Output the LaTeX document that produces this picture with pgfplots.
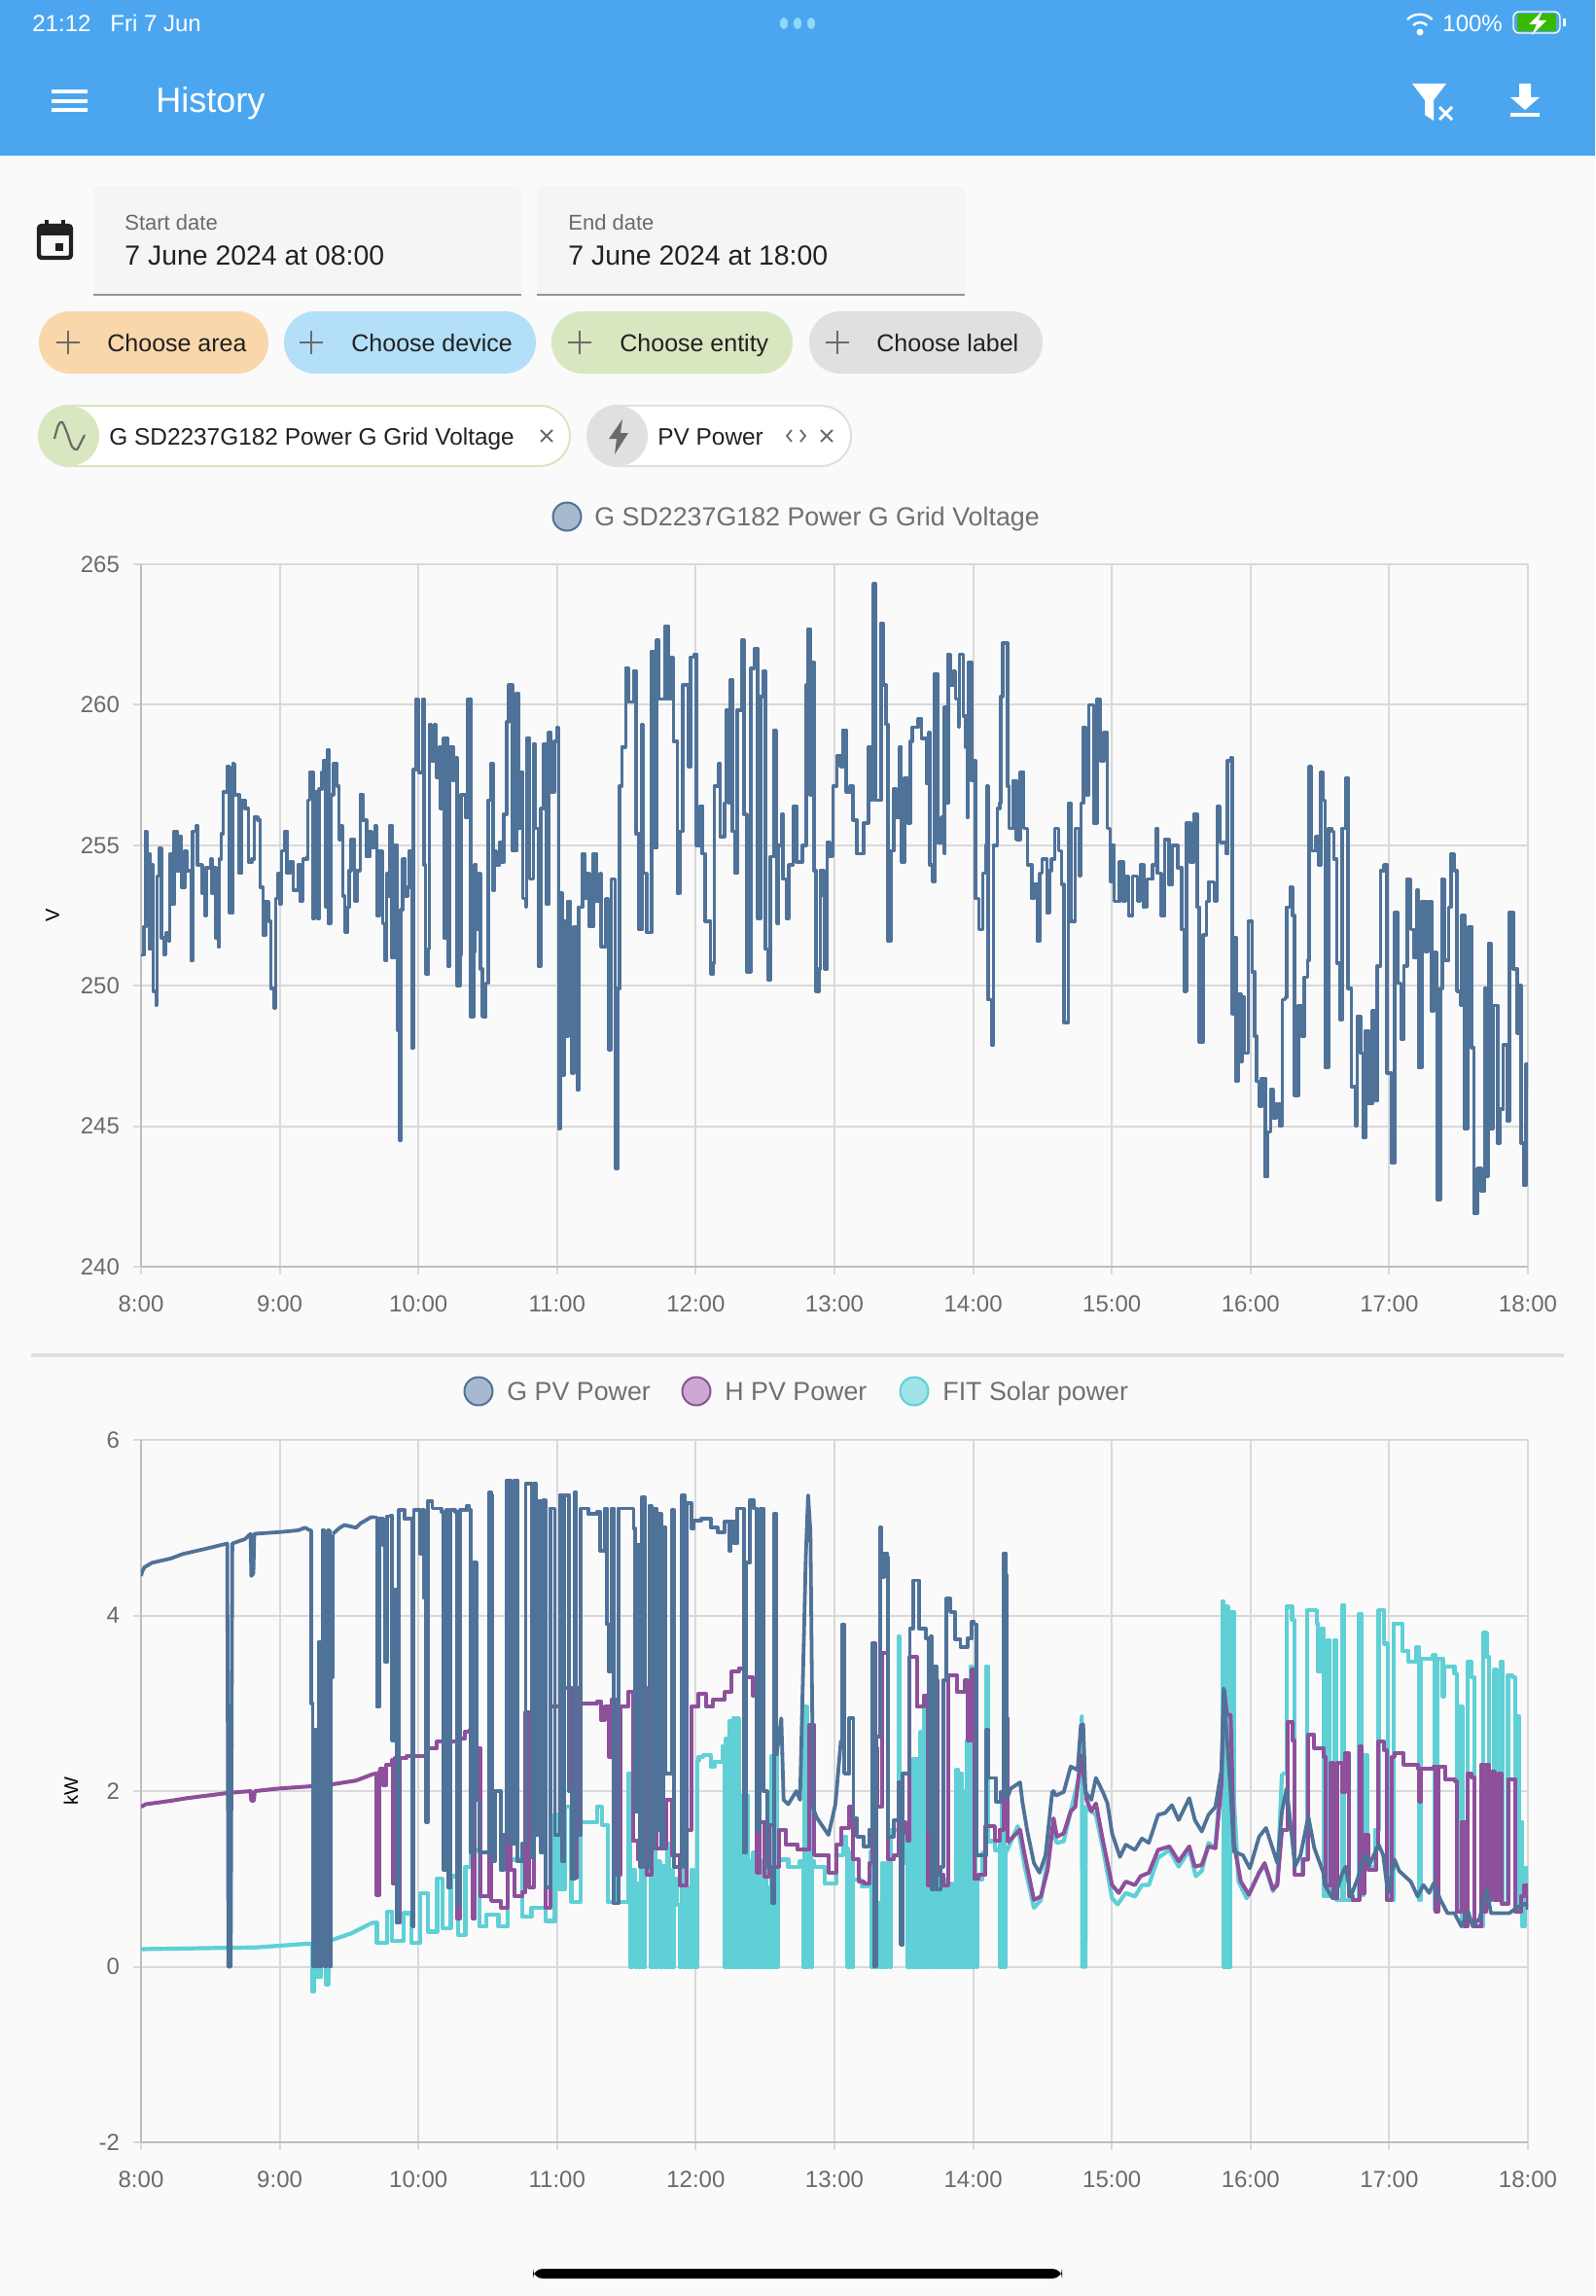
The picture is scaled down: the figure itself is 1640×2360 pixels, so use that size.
\documentclass[border=0pt]{standalone}
\usepackage{fontspec}
\setmainfont{Liberation Sans}
\usepackage{pgfplots}
\pgfplotsset{compat=1.18}
\definecolor{pagebg}{HTML}{FAFAFA}
\definecolor{hdr}{HTML}{4CA6EF}
\definecolor{gridc}{HTML}{D9D9D9}
\definecolor{axc}{HTML}{BDBDBD}
\definecolor{tickc}{HTML}{6A6A6A}
\definecolor{gblue}{HTML}{4F7299}
\definecolor{hpurple}{HTML}{8E4F9B}
\definecolor{fteal}{HTML}{5FD0D5}
\definecolor{gbluel}{HTML}{A7B9CF}
\definecolor{hpurplel}{HTML}{CBA9D3}
\definecolor{ftealL}{HTML}{9FE3E6}
\definecolor{chipa}{HTML}{F9D7AB}
\definecolor{chipb}{HTML}{B3DFF9}
\definecolor{chipc}{HTML}{D8E7BF}
\definecolor{chipd}{HTML}{E0E0E0}
\definecolor{fieldbg}{HTML}{F5F5F5}
\definecolor{ink}{HTML}{212121}
\definecolor{legtxt}{HTML}{707070}
\newcommand{\fs}[1]{\fontsize{#1}{#1}\selectfont}
\pgfplotsset{hist/.style={
  scale only axis, width=713pt, height=361pt, anchor=south west,
  xmin=0, xmax=600,
  axis lines=left, axis line style={-, color=axc, line width=1pt},
  grid=major, major grid style={gridc, line width=1pt},
  tick style={gridc, line width=1pt}, tick align=outside, major tick length=4pt,
  xtick={0,60,...,600},
  xticklabels={8:00,9:00,10:00,11:00,12:00,13:00,14:00,15:00,16:00,17:00,18:00},
  tick label style={font=\fs{12}, text=tickc},
  xticklabel style={yshift=-7.5pt},
  yticklabel style={xshift=-3.5pt},
  clip=true,
}}
\tikzset{bw/.style={anchor=base west,inner sep=0}}
\begin{document}
\begin{tikzpicture}
\begin{scope}[x=0.5pt,y=-0.5pt]
\fill[pagebg] (0,0) rectangle (1640,2360);
\fill[hdr] (0,0) rectangle (1640,160);
% status bar
\node[bw,text=white,font=\fs{12}] at (33,32.5) {21:12};
\node[bw,text=white,font=\fs{12}] at (113,32.5) {Fri 7 Jun};
\foreach \cx in {806,820,834} \fill[cyan!45!white] (\cx,24) ellipse (4 and 6);
\draw[white,line width=1.2pt] (1447,20) arc (-135:-45:18);
\draw[white,line width=1.2pt] (1453,26) arc (-135:-45:10);
\fill[white] (1460,33) circle (3.5);
\node[bw,text=white,font=\fs{12}] at (1483,32.5) {100\%};
\fill[green!60!black!70!lime] (1560,14) rectangle (1600,32);
\draw[white,line width=0.7pt,rounded corners=3pt] (1556,12) rectangle (1604,34);
\fill[white] (1607,19) rectangle (1610,27);
\fill[white] (1586,11) -- (1572,25) -- (1580,25) -- (1575,36) -- (1590,21) -- (1582,21) -- cycle;
% app bar
\foreach \yy in {94,104,113} \fill[white] (53,\yy-1.8) rectangle (90,\yy+1.8);
\node[bw,text=white,font=\fs{18}] at (160,116) {History};
\fill[white] (1452,86) -- (1487,86) -- (1474,103) -- (1474,124) -- (1465,118) -- (1465,103) -- cycle;
\draw[white,line width=1.5pt] (1480,110) -- (1493,123) (1493,110) -- (1480,123);
\fill[white] (1562,86) -- (1574,86) -- (1574,100) -- (1583,100) -- (1568,113) -- (1553,100) -- (1562,100) -- cycle;
\fill[white] (1553,116) rectangle (1583,120);
% calendar
\draw[ink,line width=2.2pt,rounded corners=1.5pt] (40,232) rectangle (73,265);
\fill[ink] (39,231) rectangle (74,242);
\fill[ink] (46,226) rectangle (50,233);
\fill[ink] (63,226) rectangle (67,233);
\fill[ink] (57,250) rectangle (65,258);
% date fields
\fill[fieldbg,rounded corners=2pt] (96,192) rectangle (536,303);
\fill[fieldbg,rounded corners=2pt] (552,192) rectangle (992,303);
\fill[gray!85] (96,302) rectangle (536,304);
\fill[gray!85] (552,302) rectangle (992,304);
\node[bw,text=tickc,font=\fs{11}] at (128,237) {Start date};
\node[bw,text=ink,font=\fs{14.2}] at (128,272) {7 June 2024 at 08:00};
\node[bw,text=tickc,font=\fs{11}] at (584,237) {End date};
\node[bw,text=ink,font=\fs{14.2}] at (584,272) {7 June 2024 at 18:00};
% add chips
\fill[chipa,rounded corners=16pt] (40,320) rectangle (276,384);
\fill[chipb,rounded corners=16pt] (292,320) rectangle (551,384);
\fill[chipc,rounded corners=16pt] (567,320) rectangle (815,384);
\fill[chipd,rounded corners=16pt] (832,320) rectangle (1072,384);
\foreach \px in {70,320,596,861} {\draw[tickc,line width=1.1pt] (\px-12,352) -- (\px+12,352) (\px,340) -- (\px,364);}
\node[bw,text=ink,font=\fs{12.5}] at (110,361) {Choose area};
\node[bw,text=ink,font=\fs{12.5}] at (361,361) {Choose device};
\node[bw,text=ink,font=\fs{12.5}] at (637,361) {Choose entity};
\node[bw,text=ink,font=\fs{12.5}] at (901,361) {Choose label};
% selected chips
\draw[chipc,fill=white,line width=1pt,rounded corners=15.5pt] (40,417) rectangle (586,479);
\fill[chipc] (71,448) circle (31);
\draw[tickc,line width=1.1pt] plot[smooth] coordinates {(56,451) (60,437) (64,434) (69,445) (74,459) (79,462) (84,453) (87,447)};
\node[bw,text=ink,font=\fs{12.2}] at (112,457) {G SD2237G182 Power G Grid Voltage};
\draw[tickc,line width=0.9pt] (556,442) -- (568,454) (568,442) -- (556,454);
\draw[chipd,fill=white,line width=1pt,rounded corners=15.5pt] (604,417) rectangle (875,479);
\fill[chipd] (635,448) circle (31);
\fill[tickc] (640,431) -- (626,451) -- (634,451) -- (632,467) -- (646,445) -- (638,445) -- cycle;
\node[bw,text=ink,font=\fs{12.2}] at (676,457) {PV Power};
\draw[tickc,line width=0.9pt] (814,442) -- (809,448) -- (814,454) (823,442) -- (828,448) -- (823,454);
\draw[tickc,line width=0.9pt] (844,442) -- (856,454) (856,442) -- (844,454);
% legend 1
\draw[gblue,fill=gbluel,line width=1pt] (583,531) circle (14.5);
\node[bw,text=legtxt,font=\fs{13.4}] at (611,540) {G SD2237G182 Power G Grid Voltage};
% separator
\fill[chipd] (32,1391) rectangle (1608,1395);
% legend 2
\draw[gblue,fill=gbluel,line width=1pt] (492,1430) circle (14.5);
\node[bw,text=legtxt,font=\fs{13.4}] at (521,1439.5) {G PV Power};
\draw[hpurple,fill=hpurplel,line width=1pt] (716,1430) circle (14.5);
\node[bw,text=legtxt,font=\fs{13.4}] at (745,1439.5) {H PV Power};
\draw[fteal,fill=ftealL,line width=1pt] (940,1430) circle (14.5);
\node[bw,text=legtxt,font=\fs{13.4}] at (969,1439.5) {FIT Solar power};
% home indicator
\fill[black,rounded corners=5pt] (548,2332) rectangle (1092,2342);
\end{scope}

% ---- voltage chart
\begin{axis}[hist, at={(72.5pt,-651pt)},
  ymin=240, ymax=265, ytick={240,245,250,255,260,265},
  yticklabels={240,245,250,255,260,265},
  ylabel={V}, ylabel style={font=\fs{12},text=tickc},
  every axis y label/.style={at={(axis description cs:-0.0638,0.5)},rotate=90,anchor=center},
]
\addplot[const plot, gblue, line width=1.8pt, line join=round] coordinates {
(0,251.1)(0.6,251.1)(1.2,252.1)(2.0,255.5)(2.7,254.7)(3.7,251.3)(4.5,254.3)(5.3,249.8)(6.7,249.3)(7.0,253.9)(7.8,254.9)(8.8,251.7)(10.2,251.1)(10.8,251.9)(12.0,251.6)(12.4,254.7)(13.5,252.9)(14.3,255.5)(15.5,254.1)(16.3,255.3)(17.5,253.5)(19.0,254.8)(20.0,254.1)(21.6,250.9)(22.4,255.5)(23.7,255.7)(24.5,254.3)(26.5,253.3)(27.7,252.5)(28.1,254.2)(30.2,254.5)(30.6,253.3)(31.6,254.2)(32.4,251.7)(33.4,251.4)(33.9,254.5)(34.7,255.4)(35.5,256.9)(37.3,257.8)(38.3,252.6)(39.8,257.9)(40.4,256.8)(41.8,256.8)(42.6,254.0)(43.4,256.6)(44.9,256.3)(46.5,254.4)(47.9,254.5)(49.0,256.0)(50.6,255.9)(51.6,253.5)(52.8,251.8)(53.8,253.0)(55.3,252.3)(56.1,249.9)(57.5,249.2)(58.3,253.1)(59.1,254.0)
(60.2,252.9)(60.8,254.8)(62.0,255.5)(63.2,254.0)(64.5,254.4)(65.9,253.4)(67.9,254.3)(68.9,253.0)(70.0,254.5)(72.0,254.6)(72.2,256.6)(73.0,257.6)(74.4,252.4)(75.1,256.9)(76.5,252.4)(77.1,257.0)(78.3,257.6)(78.9,258.0)(79.7,252.8)(80.6,258.4)(81.2,252.2)(82.2,256.8)(83.2,257.9)(84.8,257.1)(85.7,255.2)(86.7,255.7)(87.3,253.2)(88.1,251.9)(89.3,252.8)(90.1,254.1)(90.8,255.2)(92.4,253.0)(93.4,254.1)(94.8,256.8)(95.9,255.9)(97.5,254.6)(98.9,255.5)(99.9,254.9)(101.2,255.7)(102.0,252.5)(103.2,254.8)(104.6,252.2)(105.6,250.9)(106.3,254.0)(107.1,253.2)(107.7,255.7)(108.5,251.0)(109.7,255.0)(110.8,248.4)(112.0,244.5)(112.4,252.7)(113.2,254.5)(114.2,253.2)(115.4,253.5)(116.1,254.8)(117.1,247.8)(117.9,257.7)(119.1,260.2)
(120.1,257.6)(122.0,260.2)(122.4,254.3)(123.0,250.4)(124.2,251.3)(124.8,259.3)(125.6,258.0)(126.9,259.3)(127.7,257.4)(129.1,258.5)(129.7,256.3)(130.9,258.8)(131.1,251.7)(131.6,258.8)(132.8,250.7)(133.6,258.5)(135.0,257.3)(136.2,258.1)(136.7,250.0)(137.9,251.1)(138.5,256.8)(140.3,256.0)(141.3,260.2)(142.6,248.9)(143.8,251.2)(144.4,254.3)(145.0,252.0)(146.0,254.0)(146.8,250.6)(147.7,248.9)(149.1,250.1)(150.1,256.6)(151.5,257.9)(152.2,253.4)(152.8,254.8)(153.8,254.3)(155.0,255.1)(156.2,254.4)(157.0,256.1)(158.3,259.4)(159.1,260.7)(160.7,254.8)(162.3,260.4)(163.2,255.6)(164.0,257.6)(165.2,253.1)(166.4,252.8)(166.8,258.8)(168.1,253.8)(169.7,258.6)(170.5,255.6)(171.9,250.7)(173.0,256.3)(174.2,258.6)(175.4,252.9)(176.2,259.0)(177.4,256.9)(178.7,258.7)(179.9,259.2)
(180.7,244.9)(181.5,253.3)(182.1,246.8)(183.2,252.3)(183.8,248.2)(184.6,253.0)(185.6,248.3)(186.4,246.9)(187.2,252.1)(188.7,246.3)(189.3,252.8)(190.9,254.7)(191.9,253.1)(192.9,254.0)(194.0,252.1)(195.6,254.7)(197.0,253.0)(198.5,254.0)(199.1,251.4)(201.1,253.1)(202.1,247.7)(203.5,253.8)(205.2,243.5)(206.2,249.9)(207.0,257.1)(208.0,258.5)(209.7,261.3)(210.9,260.1)(213.1,261.2)(214.2,255.4)(215.4,252.0)(216.8,259.3)(217.4,254.0)(218.8,251.9)(220.9,261.9)(222.1,254.9)(223.1,262.3)(223.9,260.2)(226.8,262.8)(228.0,260.2)(229.4,261.7)(230.3,258.7)(232.1,253.3)(233.1,255.5)(234.3,260.7)(236.8,257.8)(237.8,261.7)(239.4,261.8)
(240.3,255.0)(241.9,256.4)(242.9,254.7)(244.1,252.3)(246.4,250.4)(247.4,250.8)(248.0,257.1)(250.0,257.9)(250.5,255.3)(252.5,256.5)(253.1,259.8)(253.9,256.5)(254.7,260.9)(255.8,255.5)(257.0,254.0)(257.8,259.8)(259.8,262.3)(260.9,256.1)(262.1,250.5)(263.7,261.3)(265.3,262.0)(266.8,252.4)(268.0,260.3)(269.2,261.2)(270.0,251.3)(271.3,250.2)(272.3,254.6)(273.9,259.1)(274.9,252.2)(275.7,255.0)(277.2,256.1)(277.8,253.8)(279.2,252.4)(280.2,254.3)(282.1,256.4)(283.5,254.4)(286.2,255.0)(287.8,260.7)(288.6,262.7)(289.4,256.8)(290.0,261.5)(291.2,254.1)(292.1,249.8)(293.3,250.6)(293.9,254.1)(295.3,253.2)(295.9,250.6)(296.8,255.1)(297.8,254.6)(299.4,257.1)
(301.0,258.2)(302.5,257.8)(303.7,259.1)(305.1,256.9)(306.8,257.1)(308.0,255.9)(309.7,254.7)(312.7,255.8)(314.7,258.5)(315.9,256.6)(316.7,264.3)(317.7,256.6)(320.1,262.9)(321.3,260.7)(322.3,259.3)(323.1,251.6)(324.3,254.8)(325.7,257.0)(326.7,256.0)(328.1,258.5)(328.9,254.4)(330.3,257.4)(331.7,255.8)(332.7,258.7)(333.7,259.2)(336.3,259.5)(337.7,258.8)(339.7,257.2)(340.9,259.0)(341.3,254.3)(342.3,253.7)(343.3,261.1)(344.7,255.1)(346.3,256.0)(347.3,254.7)(347.5,259.9)(348.3,256.5)(349.1,261.8)(350.3,260.7)(351.5,261.2)(352.3,260.2)(353.7,259.2)(354.1,261.8)(355.7,259.6)(356.7,258.5)(357.5,256.0)(357.9,261.5)(359.3,257.3)
(360.6,258.0)(361.0,253.1)(362.4,252.0)(364.2,254.0)(365.4,255.0)(366.0,257.1)(366.4,249.5)(368.0,247.9)(368.8,255.0)(370.4,256.3)(371.4,256.5)(372.0,260.3)(372.8,262.2)(373.8,262.2)(374.8,257.1)(375.6,255.6)(377.3,257.3)(378.7,255.2)(380.3,257.6)(381.9,255.6)(383.5,254.3)(385.5,253.1)(386.3,253.6)(387.7,251.6)(388.9,254.0)(389.9,254.5)(391.9,252.6)(392.9,254.1)(393.9,254.5)(395.3,255.6)(396.9,254.8)(398.3,253.6)(399.2,248.7)(401.2,256.5)(402.2,252.3)(404.2,255.6)(405.8,253.9)(406.6,256.5)(407.6,259.2)(408.6,256.8)(410.1,260.0)(412.1,255.8)(413.7,260.2)(415.1,258.0)(416.5,259.0)(418.0,255.6)(419.3,253.7)
(420.0,255.0)(421.0,253.0)(423.4,254.4)(425.0,253.0)(426.0,253.9)(427.3,252.5)(429.0,253.9)(431.0,253.0)(432.3,254.3)(433.7,252.8)(435.3,253.8)(437.7,254.3)(439.1,255.6)(439.7,254.0)(441.3,252.5)(442.9,255.2)(444.8,253.6)(446.2,255.0)(448.4,254.2)(450.3,252.0)(451.4,249.8)(452.3,255.8)(453.9,254.4)(455.5,256.1)(456.9,252.8)(457.9,248.0)(459.5,251.8)(460.9,253.0)(461.9,253.7)(464.3,253.0)(465.5,256.4)(466.9,255.1)(469.5,254.7)(470.1,258.0)(471.4,258.1)(472.2,249.0)(472.6,251.7)(473.8,246.6)(474.8,249.7)(475.8,247.3)(476.3,249.6)(477.3,247.6)(479.1,252.3)
(480.7,250.5)(481.7,248.2)(482.7,246.6)(483.7,245.7)(484.7,246.7)(486.3,243.2)(487.3,244.8)(488.7,246.3)(489.7,245.3)(491.1,245.8)(492.7,245.0)(493.7,249.5)(495.1,249.6)(495.7,252.8)(497.1,253.5)(498.1,252.5)(499.1,246.1)(500.7,249.3)(502.1,248.2)(503.3,250.3)(504.7,250.9)(505.3,257.8)(506.3,254.8)(508.3,255.3)(509.3,254.3)(510.3,257.6)(511.3,256.6)(512.3,247.1)(513.7,255.6)(515.1,255.5)(516.1,254.5)(517.3,250.8)(518.7,248.8)(519.7,255.6)(521.3,257.4)(522.1,249.9)(523.7,246.4)(525.3,245.0)(526.1,248.9)(527.7,247.6)(528.7,244.6)(529.7,248.4)(531.1,245.8)(532.7,249.1)(533.7,245.9)(534.7,250.7)(536.3,254.1)(537.7,254.3)(539.1,246.9)
(540.9,243.7)(542.3,252.6)(543.7,250.1)(545.1,248.1)(546.3,250.7)(547.7,253.8)(549.3,252.0)(550.7,251.0)(552.1,253.4)(552.7,247.1)(554.1,253.0)(555.7,251.2)(556.9,253.0)(558.3,249.1)(559.3,251.2)(560.7,242.4)(561.3,242.4)(562.1,249.9)(562.9,253.8)(564.1,250.9)(565.7,252.8)(566.7,254.7)(568.3,254.1)(569.3,249.8)(570.7,249.3)(571.3,252.5)(572.7,244.9)(574.1,252.1)(575.7,247.8)(576.7,241.9)(578.1,243.5)(579.7,242.7)(581.3,249.9)(582.1,243.2)(582.9,251.5)(583.9,244.9)(585.1,249.3)(586.9,244.4)(587.7,245.6)(589.3,247.9)(590.9,245.2)(591.9,252.6)(593.7,250.6)(595.3,248.3)(596.1,250.0)(597.1,244.4)(598.1,242.9)(599.1,247.2)(600,246.3)
};
\end{axis}

% ---- power chart
\begin{axis}[hist, at={(72.5pt,-1101pt)},
  ymin=-2, ymax=6, ytick={-2,0,2,4,6},
  yticklabels={-2,0,2,4,6},
  ylabel={kW}, ylabel style={font=\fs{12},text=tickc},
  every axis y label/.style={at={(axis description cs:-0.0505,0.5)},rotate=90,anchor=center},
  tl/.style={fteal, line width=2.1pt, line join=round},
  pl/.style={hpurple, line width=2pt, line join=round},
  bl/.style={gblue, line width=1.9pt, line join=round},
]
% FIT Solar power
\addplot[tl] coordinates {(0,0.2)(50,0.22)(71,0.26)(73.6,0.26)};
\addplot[tl,const plot] coordinates {(73.6,0.26)(74,-0.28)(75,0.28)(76,-0.12)(78,0.28)(80,-0.2)(81,0.29)};
\addplot[tl] coordinates {(81,0.29)(91,0.38)(100,0.5)(101,0.5)};
\addplot[tl,const plot] coordinates {
(101,0.5)(102,0.27)(106.6,0.63)(108.7,0.29)(111.2,0.29)(113.6,0.61)(117,0.27)(120.9,0.84)(124,0.4)(128.1,1.0)(130.4,0.44)(134,1.03)(137.3,0.36)(140.3,1.14)(142.8,1.33)(146.4,0.46)(149.5,0.59)(154.6,0.46)(158.7,1.22)(164.8,0.57)(168.9,0.67)(175,0.52)(179,1.73)(181.1,0.88)(183.2,1.82)(186.2,0.74)(190.3,1.65)(197.4,1.82)(199.5,1.61)(202,0.74)(204.6,2.15)(206,0.74)(210.7,2.2)
(211.7,0)(212.6,1.1)(213.6,0)(214.4,0.95)(215.4,0)(216.3,1.1)(217.2,0)(218,1.1)(220.6,1.1)(220.6,0)(221.6,2.2)(222.6,0)(223.6,1.2)(224.6,0)(225.6,1.15)(226.6,0)(227.6,1.4)(228.6,0)(229.6,1.1)(230,0)(230.5,1.0)(232,0.7)(233,0)(234,2.0)(235,0)(236,0.9)(237,0)(238,1.1)(239,0)(240,0.9)(240.5,0)(240.8,2.35)(241.3,2.39)(243.3,2.41)(246.4,2.28)(248,2.33)(251.5,2.51)
(252.4,0)(253.1,2.6)(253.8,0)(254.6,2.8)(255.4,0)(256.2,2.83)(257,0)(257.8,2.83)(258.7,0)(259.6,1.95)(260.5,0)(261.4,1.95)(262.3,0)(263,1.2)(263.8,0)(264.7,1.3)(265.5,0)(266.4,1.4)(267.3,0)(268.2,1.2)(269.1,0)(270,1.1)(270.6,0)(271.3,0.9)(272,0)(272.8,2.4)(273.6,0)(274.4,2.5)(275.2,0)(275.6,1.22)(277,1.22)(280,1.14)(285.1,1.2)(286.4,0)(287.2,2.96)(288,0)(288.8,2.5)(289.8,0)(290.2,1.2)(291.2,1.14)(295.9,0.95)(300.8,1.27)
(303.8,1.48)(305.2,1.35)(305.7,0)(306.7,1.3)(307.8,0)(308,0.99)(311.7,0.91)(315.6,1.31)(315.9,0)(316.8,0.9)(317.7,0)(318.7,0.72)(319.7,0)(320.7,1.18)(321.7,0)(322.7,1.18)(323.9,0)(324.3,1.56)(327.6,3.76)(328.2,1.56)(330.8,1.18)(331.6,0)(332.4,2.2)(333.2,0)(334,2.37)(334.8,0)(335.6,2.37)(336.4,0)(337.2,2.67)(338,0)(338.8,3.0)(339.6,0)(340.4,2.83)(341.2,0)(342,0.88)(342.8,0)(343.6,0.88)(344.4,0)(345.2,1.0)(346,0)(346.8,1.0)(347.6,0)(348.4,0.95)(349.2,0)(350,0.95)(350.8,0)(351.6,0.2)(352.4,0)(352.8,2.24)(353.6,0)(354.2,2.2)(355,0)(355.8,2.0)(356.6,0)(357.4,2.58)(358.2,0)(358.9,3.42)(359.6,0)(360.4,3.09)(361,1.0)(361.4,0)(361.6,0.99)(364,1.3)(365.6,3.42)(366.4,1.43)(369.4,1.33)(371.6,1.4)(371.7,0)(372.6,1.95)(373.7,0)(374.2,1.3)};
\addplot[tl] coordinates {
(374.2,1.3)(379.3,1.6)(382.3,1.14)(386.3,0.67)(389.3,0.76)(394.2,1.56)(396.2,1.41)(399.2,1.43)(402.2,1.77)(406.2,2.2)(407,2.85)(407.2,0)(408.6,0)(408.7,1.82)(413.1,1.73)(416.1,1.35)(420.1,0.78)(422.5,0.71)(426,0.84)(430,0.8)(433,0.93)(436,0.93)(440,1.24)(444.9,1.33)(448.9,1.14)(453.5,1.33)(456.3,1.03)(458.9,1.09)(461.8,1.41)(464.8,1.35)(466.9,2.13)};
\addplot[tl,const plot] coordinates {(466.9,2.13)(467.8,4.16)(468.4,0)(469.4,4.1)(470.2,0)(471.4,4.04)(472.8,1.9)};
\addplot[tl] coordinates {(472.8,1.9)(474.8,0.97)(478.3,0.78)(483.7,1.07)(486.1,1.16)(489.7,0.86)(491.6,0.97)(493.6,2.2)};
\addplot[tl,const plot] coordinates {
(493.6,2.2)(495.6,4.1)(498,3.95)(499,1.05)(502.6,1.22)(504.6,4.06)(508.6,3.91)(509.2,3.36)(510.6,3.85)(511.6,0.8)(513.2,3.72)(514.2,0.8)(516.1,3.72)(517.1,0.76)(519.5,4.12)(520.5,0.76)(524.4,0.76)(527,4.02)(528,0.82)(529,2.41)(530.4,1.14)(533.8,1.56)(535.4,4.06)(537.8,3.68)(539.4,0.76)(541.8,3.91)(545.8,3.6)(548.4,3.47)(551.7,3.64)(552.9,0.76)(553.7,3.51)(558.8,3.55)(559.8,0.65)(560.8,3.51)(563.2,3.08)(563.6,3.42)(568.2,3.34)(569.2,0.65)(570.6,2.96)(571.6,0.46)(573.8,3.47)(575.5,3.3)(576.7,0.46)(580.7,3.8)(582.1,3.53)(583.1,0.76)(585.5,3.38)(586.5,0.76)(588.1,3.47)(589.1,0.72)(591.4,3.32)(593.4,3.3)(594.4,0.63)(595.2,2.85)(596,0.63)(597.2,1.65)(597.6,0.46)(598.6,1.12)(600,0.67)};
% H PV Power
\addplot[pl] coordinates {(0,1.82)(2,1.85)(13,1.89)(20,1.92)(38,1.98)(47.4,2.0)(47.7,1.89)(48.8,1.89)(49.2,2.0)(60,2.03)(71,2.05)(81,2.07)(93,2.12)(101,2.2)};
\addplot[pl,const plot] coordinates {
(101,2.2)(102,0.82)(103,2.22)(103.6,2.26)(104.6,2.07)(106.1,2.3)(108.5,2.36)(108.8,0.95)(110,2.38)(111,0.5)(112,2.38)(115,2.4)(117.4,0.6)(118,2.4)(119.9,2.4)(124,2.49)(128.1,2.57)(136.2,2.57)(136.6,0.55)(138,2.6)(140.3,2.68)(142.4,2.7)(143.4,0.55)(144.4,2.49)(146.8,0.8)(150.5,2.92)(151.5,0.75)(155.6,0.67)(158.7,2.92)(160,1.1)(161.7,0.8)(164.8,0.85)(166.4,2.9)(168,0.9)(169.9,2.92)(173,2.9)(175,0.67)(177,2.96)(182.1,2.96)(182.7,3.17)(186.2,1.01)(188.3,3.17)(189.3,3.0)(197.4,3.02)(199.1,2.81)(200.5,2.96)(202.5,2.39)(203.5,3.04)(205.6,1.05)(207.6,2.96)(210.7,3.13)(212.7,1.44)(214.8,1.22)(216.8,3.17)(218.8,1.05)(220.9,3.23)(222.9,1.35)(227,1.9)(229.7,1.27)(233.1,0.93)(236.2,1.56)(238.2,2.96)(241.3,3.11)(244.3,2.96)(247.4,3.04)(252.5,3.13)(255.6,3.36)(258.6,3.4)(261.7,3.3)(264.7,3.09)(266.4,1.07)(267.8,1.65)(269.8,1.03)(271.9,1.61)(273.9,1.14)(276,1.56)(279,1.39)(284.1,1.33)(289.2,2.75)(291.2,1.27)(297.4,1.07)
(300.8,1.39)(302.8,1.58)(305.2,1.58)(306.4,1.82)(307.8,1.22)(310.7,0.97)(312.7,0.95)(315.1,1.18)(316.3,3.68)(317.7,2.49)(318.7,1.82)(320.7,3.57)(322.3,3.57)(323.1,1.22)(325.6,1.27)(327.6,1.65)(330.6,1.52)(331.6,1.44)(332.6,3.53)(335.6,2.96)(338.6,3.09)(340.6,0.93)(342.5,3.26)(344.5,1.05)(347.1,0.93)(349.1,3.32)(352.9,3.13)(356.5,3.26)(357.5,2.58)(359.4,3.38)(360.4,1.0)(362.4,1.05)(365.4,1.6)(369.4,1.44)(371.4,1.56)(373,2.83)(374.8,1.41)};
\addplot[pl] coordinates {
(374.8,1.41)(377.3,1.48)(380.3,1.56)(382.3,1.27)(386.3,0.76)(389.3,0.8)(392.2,1.1)(394.8,1.69)(396.2,1.48)(399.2,1.52)(402.2,1.77)(404.2,1.82)(406.6,2.41)(409.1,1.9)(411.1,1.77)(413.1,1.86)(416.1,1.44)(420.1,0.93)(423,0.84)(426,0.97)(430,0.93)(432.4,1.03)(436,1.07)(440,1.33)(444.9,1.37)(448.9,1.2)(453.5,1.37)(455.9,1.14)(458.9,1.16)(461.8,1.37)(464.8,1.35)(467.4,2.07)(468.6,3.15)(469.8,2.87)(471.4,2.87)(472.8,1.4)(475.8,0.97)(479.3,0.82)(483.7,1.07)(486.1,1.18)(489.7,0.88)(491.6,0.93)(493.6,1.56)};
\addplot[pl,const plot] coordinates {
(493.6,1.56)(496,2.79)(498,2.58)(499.2,1.05)(502.6,1.22)(505,2.64)(507.6,2.49)(511.5,2.39)(512.5,0.93)(514.5,2.32)(515.9,0.78)(517.5,2.32)(519.5,1.99)(521.1,2.43)(522.5,0.8)(524.4,0.76)(527,2.51)(528,0.84)(529.4,1.5)(531,1.1)(534.4,1.35)(535.4,2.56)(537.8,2.47)(539,0.76)(541,2.39)(542.3,2.43)(546.3,2.3)(552.3,2.26)(552.9,1.88)(553.7,2.26)(559.2,2.28)(560.2,0.63)(561.2,2.28)(564.2,2.13)(568.6,2.11)(569.2,0.63)(571.2,1.65)(572.8,0.46)(573.8,2.2)(575.7,2.15)(576.7,0.46)(579.7,2.3)(580.7,0.63)(582.1,2.3)(583.1,0.76)(584,2.22)(585.5,0.76)(587.5,2.2)(588.7,0.72)(591.4,2.13)(594,2.13)(594.6,0.63)(597,0.8)(598.4,0.93)(600,0.65)};
% G PV Power
\addplot[bl] coordinates {(0,4.45)(0.5,4.5)(1.5,4.55)(4.7,4.6)(13,4.65)(18,4.7)(28,4.76)(37.3,4.82)(37.8,0)(38.8,0)(39.2,2.66)(39.5,4.82)(45,4.87)(47.4,4.93)(47.7,4.45)(48.6,4.48)(49,4.93)(60,4.95)(68,4.97)(71,5.0)(73,4.97)};
\addplot[bl,const plot] coordinates {(73,4.97)(73.6,3.0)(74.3,0)(75,2.7)(75.7,0)(77,3.7)(77.8,0)(78.5,4.97)(79.3,0)(80,3.5)(80.8,4.97)(81.6,0)(82,3.3)(83,4.93)};
\addplot[bl] coordinates {(83,4.93)(86,5.0)(88,5.03)(93,5.0)(95,5.05)(99.5,5.12)(101,5.12)};
\addplot[bl,const plot] coordinates {
(101,5.12)(102,2.96)(103,5.1)(104.6,4.8)(105.6,3.47)(106.6,5.13)(108,5.14)(108.6,2.58)(109.6,4.29)(110.8,0.5)(111.6,5.2)(114,5.1)(116,5.1)(117.4,0.46)(118,5.2)(120,5.2)(120.8,4.7)(121.8,5.2)(122.4,4.2)(123.4,1.65)(124,5.3)(126,5.22)(130,5.18)(131,1.1)(132,5.2)(133,0.9)(134,5.2)(136,5.18)(136.6,0.7)(138,5.2)(141,5.25)(142,5.2)(142.8,1.3)(144,4.6)(145,1.9)(146.4,1.3)(150.5,5.4)(151.5,5.37)(152,1.2)(153,2.0)(155.6,1.1)(157,1.5)(158.3,5.54)(159.1,5.54)(160,1.4)(161.7,5.54)(162.8,1.2)(164.8,1.4)(166.4,5.5)(167.2,5.5)(168.9,1.25)(169.9,5.5)(170.9,1.5)(171.9,5.3)(173,1.3)(174,5.31)(175,0.9)(177,5.22)(179,1.5)(181.1,5.37)(182.1,1.2)(183.2,5.37)(185.2,2.0)(186.2,1.0)(187.6,5.4)(188.3,1.5)(190.3,5.22)(193.4,5.16)(197.4,5.18)(198.5,4.74)(200.5,5.22)(201.5,3.9)(202.5,3.36)(203.5,5.22)(204.6,0.72)(206.6,5.22)(210.7,5.22)(213.1,4.99)(213.7,1.77)(214.8,4.8)(215.8,1.14)(216.8,5.35)(217.8,1.14)(219.9,5.25)(220.9,1.35)(221.9,5.22)(222.9,1.56)(223.9,5.16)(225,1.35)(226,5.0)(227,2.2)(229.7,5.2)(230.5,1.14)(234.1,5.37)(235.2,1.14)(236.2,5.28)(238.2,4.99)(239.2,5.08)(242.3,5.1)(246.4,5.0)(249.4,4.95)(252.5,5.07)(254.5,4.74)(255.2,5.07)(256.6,4.82)(257.8,5.22)(260.2,5.22)(260.7,1.3)(261.7,4.6)(263.3,5.31)(265.1,5.22)(266.4,1.56)(267.8,5.22)(269.2,2.0)(270.9,1.14)(272.9,0.72)(273.9,5.16)(274.9,2.4)};
\addplot[bl] coordinates {(274.9,2.4)(277,2.83)(278,1.9)(280,1.85)(283.5,2.0)(285.1,1.9)(287.6,4.67)(288.6,5.37)(289.6,4.95)(290.8,1.8)(292.3,1.7)(297.4,1.5)(300.4,1.85)(302.8,2.58)};
\addplot[bl,const plot] coordinates {
(302.8,2.58)(303.4,3.9)(304.2,2.2)(306.4,2.83)(307.4,2.83)(308.2,1.69)(309.7,1.48)(312.7,1.37)(315.1,1.56)(316.3,3.68)(317.1,0)(318.3,2.62)(319.7,5.0)(320.3,4.44)(321.3,4.71)(322.7,4.67)(323.1,1.48)(325.6,1.67)(327.6,2.1)(328.6,0.25)(329.6,2.2)(331.6,2.2)(332.6,3.85)(334,4.4)(336.6,3.85)(339.6,3.74)(340.6,1.56)(341.6,3.76)(342.1,0.88)(343.1,3.42)(344.1,0.88)(346.1,1.14)(347.1,3.26)(348.5,4.19)(350.1,4.04)(352.1,3.73)(354.5,3.64)(357.5,3.74)(359.4,3.93)(360.4,3.9)(361.4,1.27)(365.8,2.7)(366.4,2.15)(369,2.15)(370,1.88)(372,1.99)(373,4.71)(374,4.46)(374.4,1.9)};
\addplot[bl] coordinates {
(374.4,1.9)(376.3,2.03)(380.3,2.1)(381.3,1.88)(383.3,1.56)(386.3,1.18)(388.7,1.07)(391.3,1.27)(394.2,1.99)(394.8,2.0)(395.8,1.95)(399.2,1.99)(402.2,2.28)(405.2,2.24)(406.6,2.75)(407.6,2.76)(408.6,1.99)(411.1,1.9)(413.1,2.15)(416.1,1.99)(418.1,1.86)(420.1,1.52)(423.5,1.25)(426,1.39)(430,1.33)(433,1.46)(436,1.41)(440,1.73)(443,1.75)(446,1.84)(448.9,1.67)(453.5,1.92)(455.9,1.67)(458.9,1.54)(461.8,1.73)(464.8,1.82)(467.4,2.24)(468.4,3.17)(469.4,2.75)(471.4,1.99)(472.8,1.31)(476.7,1.27)(479.7,1.12)(483.7,1.48)(486.7,1.58)(491.6,1.18)(493.6,1.77)(495.6,2.03)(497.6,1.56)(499.2,1.14)(501.6,1.27)(505,1.71)(507.6,1.35)(511.5,1.07)(512.1,0.93)(515.5,0.78)(517.5,0.88)(519.5,1.05)(521.1,1.14)(523.4,0.8)(526.4,1.01)(529.4,1.27)(531.4,1.16)(535.4,1.39)(537.4,1.27)(539.4,0.84)(542.3,1.22)(544.3,1.09)(549.3,0.97)(552.3,0.8)(554.8,0.93)(557.3,0.84)(559.2,0.95)(562.2,0.76)(565.2,0.61)(568.2,0.61)(571.2,0.46)(574.1,0.63)(576.1,0.46)(579.1,0.55)(582.1,0.88)(584,0.61)(588,0.61)(592,0.61)(595,0.67)(599,0.72)(600,0.67)};
\end{axis}
\end{tikzpicture}
\end{document}
